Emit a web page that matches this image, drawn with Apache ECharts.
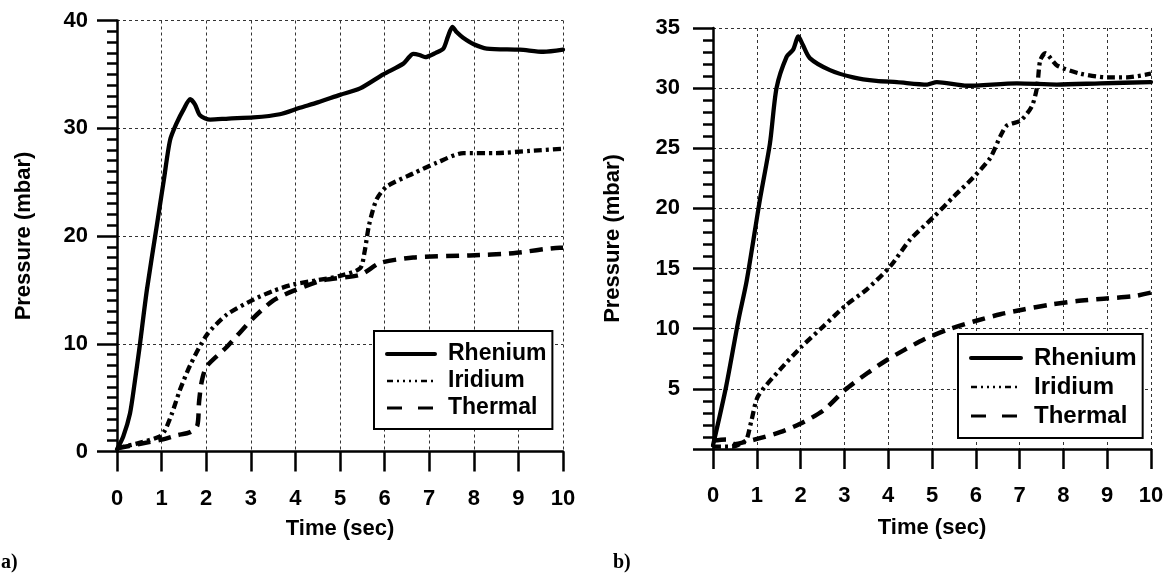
<!DOCTYPE html>
<html>
<head>
<meta charset="utf-8">
<script src="https://cdn.jsdelivr.net/npm/echarts@6/dist/echarts.min.js"></script>
<style>html,body{margin:0;padding:0;background:#fff;}#c{width:1167px;height:575px;}</style>
</head>
<body>
<div id="c"></div>
<script>
// ---- data (time in sec, pressure in mbar) ----
const seriesNames = ['Rhenium', 'Iridium', 'Thermal'];
const xTicks = [0,1,2,3,4,5,6,7,8,9,10];

// panel a)
const aRhenium = [[0,0.2],[0.14,1.4],[0.29,3.5],[0.4,6.5],[0.5,9.5],[0.67,15.0],[0.89,20.9],[1.05,25.2],[1.19,28.9],[1.34,30.5],[1.5,31.8],[1.64,32.7],[1.75,32.2],[1.86,31.2],[2.09,30.8],[2.5,30.9],[3.06,31.0],[3.65,31.3],[4.1,31.9],[4.5,32.4],[5.0,33.1],[5.45,33.7],[5.97,35.0],[6.42,36.0],[6.55,36.6],[6.64,36.9],[6.78,36.8],[6.91,36.6],[7.15,37.0],[7.32,37.4],[7.42,38.5],[7.52,39.4],[7.62,38.9],[7.76,38.4],[8.0,37.8],[8.29,37.4],[9.03,37.3],[9.56,37.1],[10,37.3]];
const aIridium = [[0,0.3],[0.5,0.8],[0.96,1.4],[1.08,2.0],[1.23,3.5],[1.41,5.7],[1.64,8.0],[2.01,10.8],[2.46,12.7],[3.06,14.1],[3.5,14.9],[3.95,15.5],[4.5,15.9],[5.0,16.3],[5.45,17.0],[5.55,18.5],[5.65,21.0],[5.82,23.4],[6.05,24.6],[6.64,25.8],[7.17,26.8],[7.77,27.7],[8.5,27.7],[9.26,27.9],[10,28.1]];
const aThermal = [[0,0.3],[0.5,0.7],[1.0,1.1],[1.34,1.5],[1.64,1.8],[1.8,2.4],[1.84,4.6],[1.9,6.5],[2.01,7.9],[2.46,9.7],[3.06,12.4],[3.5,14.0],[3.95,14.9],[4.62,15.9],[5.45,16.4],[5.9,17.5],[6.64,18.0],[7.91,18.2],[8.88,18.4],[9.93,18.9],[10,18.9]];

// panel b)
const bRhenium = [[0,0.3],[0.3,5.2],[0.58,10.7],[0.77,14.0],[1.07,20.7],[1.3,25.4],[1.45,30.0],[1.68,32.6],[1.83,33.2],[1.95,34.3],[2.05,33.6],[2.21,32.5],[2.67,31.5],[3.2,30.9],[3.73,30.6],[4.2,30.5],[4.89,30.3],[5.11,30.5],[5.8,30.2],[6.94,30.4],[7.85,30.3],[8.84,30.4],[10,30.5]];
const bIridium = [[0,0.2],[0.46,0.2],[0.7,0.6],[0.77,0.8],[0.88,2.4],[1.03,4.4],[1.53,6.6],[2.02,8.5],[2.52,10.2],[3.05,12.0],[3.52,13.3],[4.05,15.2],[4.5,17.4],[5.04,19.3],[5.5,21.0],[5.95,22.6],[6.33,24.2],[6.56,26.0],[6.71,26.9],[7.02,27.3],[7.28,28.5],[7.4,30.1],[7.47,32.3],[7.59,32.9],[7.85,31.9],[8.39,31.2],[9.0,30.9],[9.45,30.9],[10,31.2]];
const bThermal = [[0,0.7],[0.3,0.8],[0.5,0.4],[0.75,0.6],[1.07,0.9],[1.53,1.4],[1.99,2.1],[2.52,3.2],[3.01,4.9],[3.52,6.3],[3.97,7.4],[4.35,8.2],[4.81,9.1],[5.34,9.9],[5.95,10.6],[6.56,11.2],[7.09,11.6],[7.7,12.0],[8.31,12.3],[8.92,12.5],[9.6,12.7],[10,13.0]];

const aYTicks = [0,10,20,30,40];
const bYTicks = [0,5,10,15,20,25,30,35];

// ---- styles ----
const FONT = "'Liberation Sans', Arial, Helvetica, sans-serif";
const styles = {
  Rhenium: {color:'#000', width:4.3, type:'solid', cap:'round', join:'round'},
  Iridium: {color:'#000', width:4.3, type:[8,4,3,4], join:'round'},
  Thermal: {color:'#000', width:4.5, type:[13,8], join:'round'}
};
const legendIcon = {
  Rhenium: {color:'#000', width:4, type:'solid'},
  Iridium: {color:'#000', width:2.5, type:[6,4,2,4,2,4,2,4,2,4]},
  Thermal: {color:'#000', width:3, type:[15,16]}
};

function xAxisCfg(gi, nameGap) {
  return {
    type:'value', gridIndex:gi, min:xTicks[0], max:xTicks[xTicks.length-1], interval:1,
    name:'Time (sec)', nameLocation:'middle', nameGap:nameGap,
    nameTextStyle:{fontFamily:FONT, fontWeight:'bold', fontSize:22, color:'#000'},
    axisLine:{show:true, onZero:false, lineStyle:{color:'#000', width:2.5}},
    axisTick:{show:true, length:20, lineStyle:{color:'#000', width:2.5}},
    axisLabel:{fontFamily:FONT, fontWeight:'bold', fontSize:22, color:'#000', margin:36},
    splitLine:{show:true, lineStyle:{color:'#333', width:1, type:[3,3]}}
  };
}
function yAxisCfg(gi, ticks, minorSplit, offset, labelMargin, nameGap, showMin) {
  return {
    type:'value', gridIndex:gi, min:ticks[0], max:ticks[ticks.length-1], interval:ticks[1]-ticks[0],
    offset:offset,
    name:'Pressure (mbar)', nameLocation:'middle', nameGap:nameGap,
    nameTextStyle:{fontFamily:FONT, fontWeight:'bold', fontSize:22, color:'#000'},
    axisLine:{show:true, lineStyle:{color:'#000', width:2.5}},
    axisTick:{show:true, length:20, lineStyle:{color:'#000', width:2.5}},
    minorTick:{show:true, splitNumber:minorSplit, length:10, lineStyle:{color:'#000', width:2.5}},
    axisLabel:{fontFamily:FONT, fontWeight:'bold', fontSize:22, color:'#000', margin:labelMargin, showMinLabel:showMin},
    splitLine:{show:true, lineStyle:{color:'#333', width:1, type:[3,3]}},
    minorSplitLine:{show:false}
  };
}
function lineSeries(name, data, gi) {
  return {
    type:'line', name:name, data:data, xAxisIndex:gi, yAxisIndex:gi,
    showSymbol:false, symbol:'none', smooth:0.25,
    lineStyle:styles[name], itemStyle:{color:'#000'}, z:3, animation:false
  };
}
function legendCfg(left, top, padding, itemWidth, fontSize, lineH) {
  return {
    orient:'vertical', left:left, top:top, padding:padding,
    backgroundColor:'#fff', borderColor:'#000', borderWidth:2, borderRadius:0,
    itemWidth:itemWidth, itemHeight:12, itemGap:3,
    selectedMode:false,
    itemStyle:{color:'rgba(0,0,0,0)', opacity:0, borderWidth:0},
    textStyle:{fontFamily:FONT, fontWeight:'bold', fontSize:fontSize, color:'#000', lineHeight:lineH, padding:[0,0,0,8]},
    data: seriesNames.map(n => ({name:n, lineStyle:legendIcon[n], itemStyle:{color:'rgba(0,0,0,0)', opacity:0, borderWidth:0}}))
  };
}

const chart = echarts.init(document.getElementById('c'), null, {renderer:'canvas'});
chart.setOption({
  animation:false,
  backgroundColor:'#fff',
  grid:[
    {left:117, right:1167-563, top:20.5, bottom:575-451.5},
    {left:713, right:1167-1151, top:28, bottom:575-449}
  ],
  xAxis:[xAxisCfg(0, 66), xAxisCfg(1, 68)],
  yAxis:[
    yAxisCfg(0, aYTicks, 10, 2, 27, 80, true),
    yAxisCfg(1, bYTicks, 5, 5, 28, 84, false)
  ],
  legend:[
    legendCfg(374, 331, [11,6,9,11], 48, 23, 24),
    legendCfg(958, 334, [11,6,9,11], 50, 24, 26)
  ],
  series:[
    lineSeries('Rhenium', aRhenium, 0),
    lineSeries('Iridium', aIridium, 0),
    lineSeries('Thermal', aThermal, 0),
    lineSeries('Rhenium', bRhenium, 1),
    lineSeries('Iridium', bIridium, 1),
    lineSeries('Thermal', bThermal, 1)
  ],
  graphic:[
    {type:'text', left:1, top:553, style:{text:'a)', font:"bold 20px 'Liberation Serif', 'Times New Roman', serif", fill:'#000'}},
    {type:'text', left:613, top:553, style:{text:'b)', font:"bold 20px 'Liberation Serif', 'Times New Roman', serif", fill:'#000'}}
  ]
});
</script>
</body>
</html>
